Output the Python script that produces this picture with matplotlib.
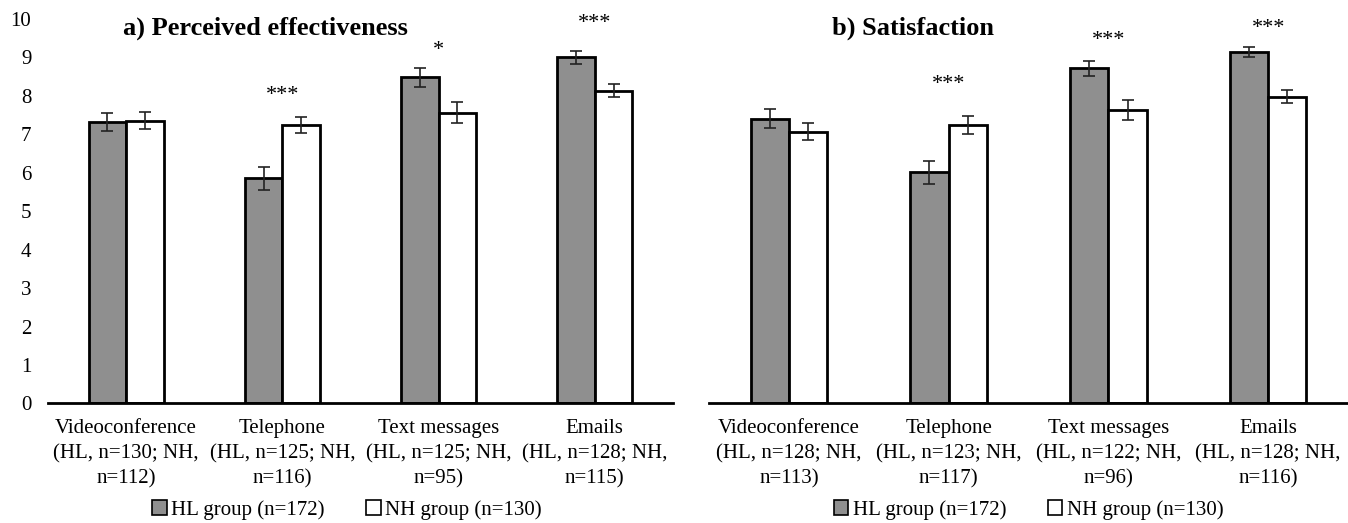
import numpy as np
import matplotlib
matplotlib.use('Agg')
import matplotlib.pyplot as plt
from matplotlib.patches import Patch

plt.rcParams['font.family'] = ['Liberation Serif', 'DejaVu Serif']

# mean ratings (0-10) with error bar half-widths
modes = ['Videoconference', 'Telephone', 'Text messages', 'Emails']

eff_labels = ['(HL, n=130; NH,\nn=112)', '(HL, n=125; NH,\nn=116)',
              '(HL, n=125; NH,\nn=95)', '(HL, n=128; NH,\nn=115)']
eff_hl = [7.32, 5.86, 8.48, 9.00]
eff_hl_err = [0.23, 0.30, 0.25, 0.17]
eff_nh = [7.35, 7.24, 7.56, 8.13]
eff_nh_err = [0.22, 0.21, 0.27, 0.17]
eff_sig = ['', '***', '*', '***']
eff_sig_y = [0, 8.0, 9.19, 9.89]

sat_labels = ['(HL, n=128; NH,\nn=113)', '(HL, n=123; NH,\nn=117)',
              '(HL, n=122; NH,\nn=96)', '(HL, n=128; NH,\nn=116)']
sat_hl = [7.41, 6.01, 8.72, 9.14]
sat_hl_err = [0.25, 0.30, 0.20, 0.13]
sat_nh = [7.07, 7.24, 7.63, 7.98]
sat_nh_err = [0.22, 0.23, 0.26, 0.17]
sat_sig = ['', '***', '***', '***']
sat_sig_y = [0, 8.3, 9.45, 9.75]

HL_COLOR = '#8f8f8f'
W = 0.24

fig = plt.figure(figsize=(13.48, 5.23), dpi=100)
ax1 = fig.add_axes([0.0356, 0.2285, 0.4636, 0.7352])
ax2 = fig.add_axes([0.526, 0.2285, 0.474, 0.7352])


def panel(ax, title, title_x, hl, hl_err, nh, nh_err, sig, sig_y, sub,
          show_y, leg_x):
    x = np.arange(len(modes))
    ekw = dict(ecolor='#222222', elinewidth=1.2, capsize=4, capthick=1.2)
    ax.bar(x - W / 2, hl, W, color=HL_COLOR, edgecolor='black', linewidth=2,
           yerr=hl_err, error_kw=ekw, zorder=2)
    ax.bar(x + W / 2, nh, W, color='white', edgecolor='black', linewidth=2,
           yerr=nh_err, error_kw=ekw, zorder=2)
    for xi, s, sy in zip(x, sig, sig_y):
        if s:
            ax.text(xi, sy, s, ha='center', va='center', fontsize=16)
    ax.set_xlim(-0.5, 3.5)
    ax.set_ylim(0, 10)
    for s in ['top', 'right', 'left']:
        ax.spines[s].set_visible(False)
    ax.spines['bottom'].set_linewidth(2)
    ax.set_xticks(x)
    ax.set_xticklabels([m + '\n' + l for m, l in zip(modes, sub)],
                       fontsize=15, linespacing=1.42)
    ax.tick_params(axis='x', length=0, pad=11)
    if show_y:
        ax.set_yticks(range(0, 11))
        ax.tick_params(axis='y', length=0, labelsize=15, pad=12)
    else:
        ax.set_yticks([])
    ax.text(title_x, 9.77, title, ha='center', va='center', fontsize=19,
            fontweight='bold')
    handles = [Patch(facecolor=HL_COLOR, edgecolor='black', linewidth=1.2),
               Patch(facecolor='white', edgecolor='black', linewidth=1.2)]
    ax.legend(handles, ['HL group (n=172)', 'NH group (n=130)'], ncol=2,
              loc='center', bbox_to_anchor=(leg_x, -0.277), frameon=False,
              fontsize=15, handlelength=0.7, handleheight=0.7,
              handletextpad=0.2, columnspacing=2.0)


panel(ax1, 'a) Perceived effectiveness', 0.889, eff_hl, eff_hl_err, eff_nh,
      eff_nh_err, eff_sig, eff_sig_y, eff_labels, True, 0.478)
panel(ax2, 'b) Satisfaction', 0.777, sat_hl, sat_hl_err, sat_nh,
      sat_nh_err, sat_sig, sat_sig_y, sat_labels, False, 0.5)

fig.savefig('out.png', dpi=100)
